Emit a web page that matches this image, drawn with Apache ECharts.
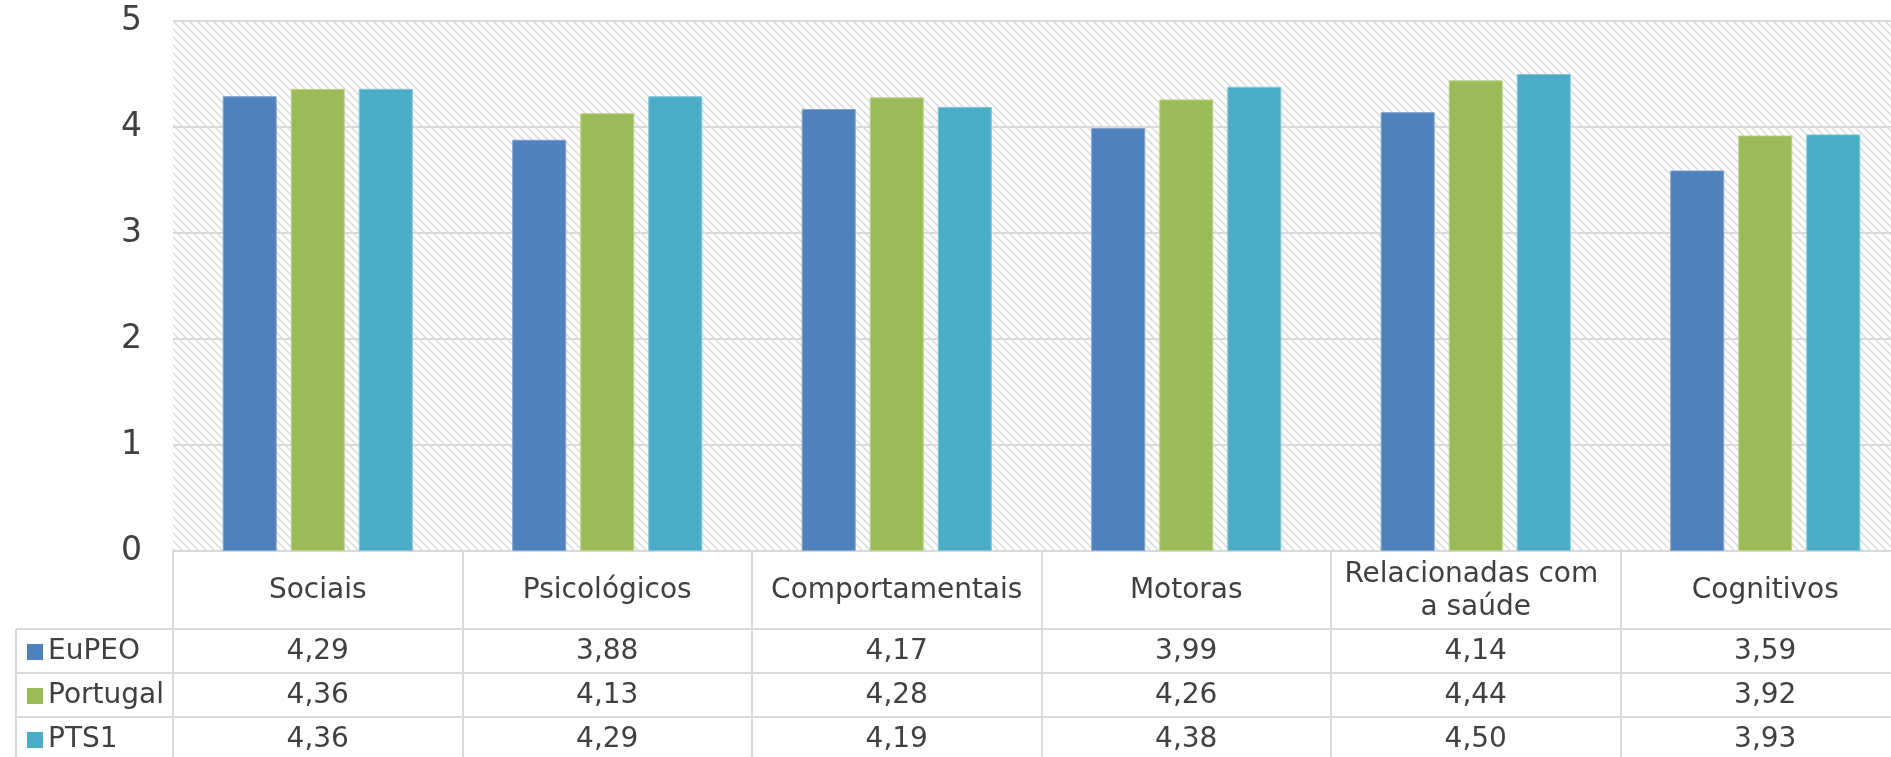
<!DOCTYPE html>
<html>
<head>
<meta charset="utf-8">
<script src="https://cdn.jsdelivr.net/npm/echarts@6/dist/echarts.min.js"></script>
<style>
html,body{margin:0;padding:0;background:#fff;overflow:hidden;width:1891px;height:757px;}
#chart{width:1912px;height:757px;}
</style>
</head>
<body>
<div id="chart"></div>
<script>
const categories = ['Sociais', 'Psicológicos', 'Comportamentais', 'Motoras', 'Relacionadas com a saúde', 'Cognitivos'];
const seriesNames = ['EuPEO', 'Portugal', 'PTS1'];
const eupeo = [4.29, 3.88, 4.17, 3.99, 4.14, 3.59];
const portugal = [4.36, 4.13, 4.28, 4.26, 4.44, 3.92];
const pts1 = [4.36, 4.29, 4.19, 4.38, 4.50, 3.93];
const yTicks = [0, 1, 2, 3, 4, 5];

const colors = ['#4F81BD', '#9BBB59', '#4BACC6'];
const borders = ['#7FA3D2', '#BAD18A', '#7FC6DA'];
const FONT = 'DejaVu Sans';
const TXT = '#404040';
const LINE = '#d9d9d9';

// hatch pattern for plot background
const pc = document.createElement('canvas');
pc.width = 8; pc.height = 8;
const g = pc.getContext('2d');
g.fillStyle = '#ffffff'; g.fillRect(0, 0, 8, 8);
g.strokeStyle = '#dedede'; g.lineWidth = 1.7;
g.beginPath();
g.moveTo(-1, -1); g.lineTo(9, 9);
g.moveTo(-1, 7); g.lineTo(1, 9);
g.moveTo(7, -1); g.lineTo(9, 1);
g.stroke();

const fmt = v => v.toFixed(2).replace('.', ',');
const rows = [eupeo, portugal, pts1];

const chart = echarts.init(document.getElementById('chart'));
const headerH = 78, rowH = 44, axisY = 551;

const xAxes = [{
  type: 'category', data: categories, position: 'bottom', gridIndex: 0,
  axisLine: {show: true, lineStyle: {color: LINE, width: 2}},
  axisTick: {show: true, interval: 0, length: headerH, lineStyle: {color: LINE, width: 2}},
  axisLabel: {interval: 0, margin: headerH / 2 + 1, verticalAlign: 'middle', fontFamily: FONT, fontSize: 28,
    color: TXT, width: 272, overflow: 'break', lineHeight: 33, align: 'center'},
  splitLine: {show: false}
}];
rows.forEach((vals, r) => {
  xAxes.push({
    type: 'category', data: categories, position: 'bottom', gridIndex: 0,
    offset: headerH + r * rowH,
    axisLine: {show: true, lineStyle: {color: LINE, width: 2}},
    axisTick: {show: true, interval: 0, length: rowH, lineStyle: {color: LINE, width: 2}},
    axisLabel: {interval: 0, margin: rowH / 2 + 1, verticalAlign: 'middle', fontFamily: FONT, fontSize: 28,
      color: TXT, formatter: (v, i) => fmt(vals[i])},
    splitLine: {show: false}
  });
});

const legendLines = [];
[0, 1, 2].forEach(r => {
  legendLines.push({type: 'line', shape: {x1: 16, y1: axisY + headerH + r * rowH, x2: 174, y2: axisY + headerH + r * rowH},
    style: {stroke: LINE, lineWidth: 2}});
});
legendLines.push({type: 'line', shape: {x1: 16, y1: axisY + headerH, x2: 16, y2: 757}, style: {stroke: LINE, lineWidth: 2}});

chart.setOption({
  animation: false,
  backgroundColor: '#ffffff',
  grid: {left: 173, top: 21, right: 2, height: 530, show: true,
    backgroundColor: {image: pc, repeat: 'repeat'}, borderWidth: 0},
  legend: {
    data: seriesNames, orient: 'vertical', left: 27, top: axisY + headerH + 1, height: 200, padding: 0,
    itemWidth: 16, itemHeight: 16, itemGap: 0, icon: 'rect',
    itemStyle: {borderWidth: 0},
    textStyle: {fontFamily: FONT, fontSize: 28, color: TXT, lineHeight: rowH}
  },
  xAxis: xAxes,
  yAxis: {
    type: 'value', min: yTicks[0], max: yTicks[yTicks.length - 1], interval: 1,
    axisLine: {show: false}, axisTick: {show: false},
    axisLabel: {fontFamily: FONT, fontSize: 33, color: TXT, margin: 31},
    splitLine: {show: true, lineStyle: {color: LINE, width: 2}}
  },
  graphic: legendLines,
  series: rows.map((vals, i) => ({
    name: seriesNames[i], type: 'bar', xAxisIndex: 0, data: vals,
    barWidth: 54, barGap: '26%',
    itemStyle: {color: colors[i], borderColor: borders[i], borderWidth: 1}
  }))
});
</script>
</body>
</html>
